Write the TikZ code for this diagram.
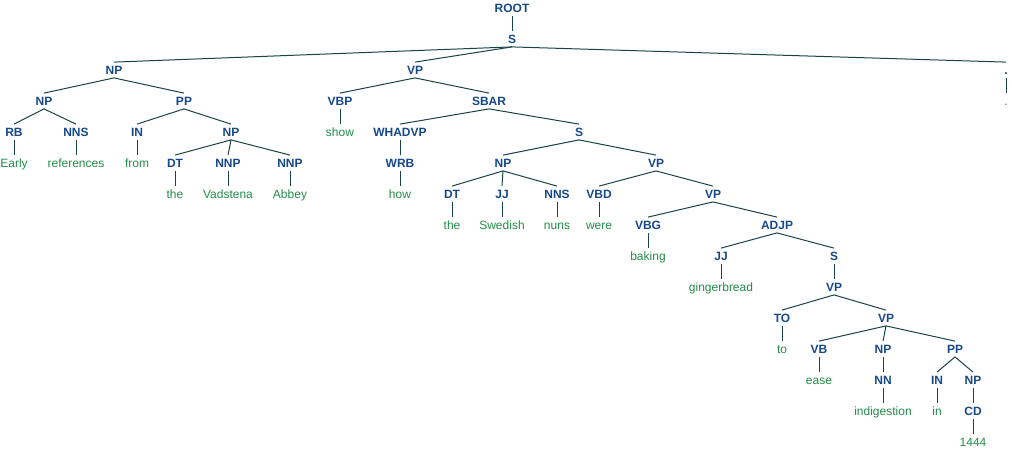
\documentclass[tikz,border=0pt]{standalone}
\usepackage{fontspec}
\setmainfont{Liberation Sans}
\definecolor{tagblue}{RGB}{22,72,138}
\definecolor{wordgreen}{RGB}{34,140,72}
\definecolor{edgeteal}{RGB}{24,68,68}
\begin{document}
\begin{tikzpicture}[x=1pt,y=-1pt,
  tnode/.style={inner xsep=0pt,inner ysep=3.4pt,text height=8.6pt,text depth=0pt,font=\fontsize{12}{12}\selectfont},
  lab/.style={tnode,text=tagblue,font=\fontsize{12}{12}\selectfont\bfseries},
  wrd/.style={tnode,text=wordgreen},
  edge/.style={draw=edgeteal,line width=1pt}]
\useasboundingbox (0,0) rectangle (1012,451);
% row heights: 8 + 31k
\node[lab] (root) at (512,8) {ROOT};
\node[lab] (s1) at (512,39) {S};
% subject noun phrase
\node[lab] (np1) at (114,70) {NP};
\node[lab] (np2) at (44,101) {NP};
\node[lab] (rb) at (14,132) {RB};
\node[wrd] (w1) at (14,163) {Early};
\node[lab] (nns1) at (76,132) {NNS};
\node[wrd] (w2) at (76,163) {references};
\node[lab] (pp1) at (184,101) {PP};
\node[lab] (in1) at (137,132) {IN};
\node[wrd] (w3) at (137,163) {from};
\node[lab] (np3) at (231,132) {NP};
\node[lab] (dt1) at (175,163) {DT};
\node[wrd] (w4) at (175,194) {the};
\node[lab] (nnp1) at (228,163) {NNP};
\node[wrd] (w5) at (228,194) {Vadstena};
\node[lab] (nnp2) at (290,163) {NNP};
\node[wrd] (w6) at (290,194) {Abbey};
% main verb phrase
\node[lab] (vp1) at (415,70) {VP};
\node[lab] (vbp) at (340,101) {VBP};
\node[wrd] (w7) at (340,132) {show};
\node[lab] (sbar) at (489,101) {SBAR};
\node[lab] (whadvp) at (400,132) {WHADVP};
\node[lab] (wrb) at (400,163) {WRB};
\node[wrd] (w8) at (400,194) {how};
\node[lab] (s2) at (579,132) {S};
\node[lab] (np4) at (503,163) {NP};
\node[lab] (dt2) at (452,194) {DT};
\node[wrd] (w9) at (452,225) {the};
\node[lab] (jj1) at (502,194) {JJ};
\node[wrd] (w10) at (502,225) {Swedish};
\node[lab] (nns2) at (557,194) {NNS};
\node[wrd] (w11) at (557,225) {nuns};
\node[lab] (vp2) at (656,163) {VP};
\node[lab] (vbd) at (599,194) {VBD};
\node[wrd] (w12) at (599,225) {were};
\node[lab] (vp3) at (713,194) {VP};
\node[lab] (vbg) at (648,225) {VBG};
\node[wrd] (w13) at (648,256) {baking};
\node[lab] (adjp) at (777,225) {ADJP};
\node[lab] (jj2) at (721,256) {JJ};
\node[wrd] (w14) at (721,287) {gingerbread};
\node[lab] (s3) at (834,256) {S};
\node[lab] (vp4) at (834,287) {VP};
\node[lab] (to) at (782,318) {TO};
\node[wrd] (w15) at (782,349) {to};
\node[lab] (vp5) at (886,318) {VP};
\node[lab] (vb) at (819,349) {VB};
\node[wrd] (w16) at (819,380) {ease};
\node[lab] (np5) at (883,349) {NP};
\node[lab] (nn) at (883,380) {NN};
\node[wrd] (w17) at (883,411) {indigestion};
\node[lab] (pp2) at (955,349) {PP};
\node[lab] (in2) at (937,380) {IN};
\node[wrd] (w18) at (937,411) {in};
\node[lab] (np6) at (973,380) {NP};
\node[lab] (cd) at (973,411) {CD};
\node[wrd] (w19) at (973,442) {1444};
% sentence-final punctuation
\node[lab] (punct) at (1006,70) {.};
\node[wrd] (w20) at (1006,101) {.};
% branches
\foreach \p/\c in {root/s1, s1/np1, s1/vp1, s1/punct, punct/w20,
  np1/np2, np1/pp1, np2/rb, np2/nns1, rb/w1, nns1/w2,
  pp1/in1, pp1/np3, in1/w3, np3/dt1, np3/nnp1, np3/nnp2,
  dt1/w4, nnp1/w5, nnp2/w6,
  vp1/vbp, vp1/sbar, vbp/w7, sbar/whadvp, sbar/s2, whadvp/wrb, wrb/w8,
  s2/np4, s2/vp2, np4/dt2, np4/jj1, np4/nns2, dt2/w9, jj1/w10, nns2/w11,
  vp2/vbd, vp2/vp3, vbd/w12, vp3/vbg, vp3/adjp, vbg/w13,
  adjp/jj2, adjp/s3, jj2/w14, s3/vp4, vp4/to, vp4/vp5, to/w15,
  vp5/vb, vp5/np5, vp5/pp2, vb/w16, np5/nn, nn/w17,
  pp2/in2, pp2/np6, in2/w18, np6/cd, cd/w19}
  \draw[edge] (\p.south) -- (\c.north);
\end{tikzpicture}
\end{document}
